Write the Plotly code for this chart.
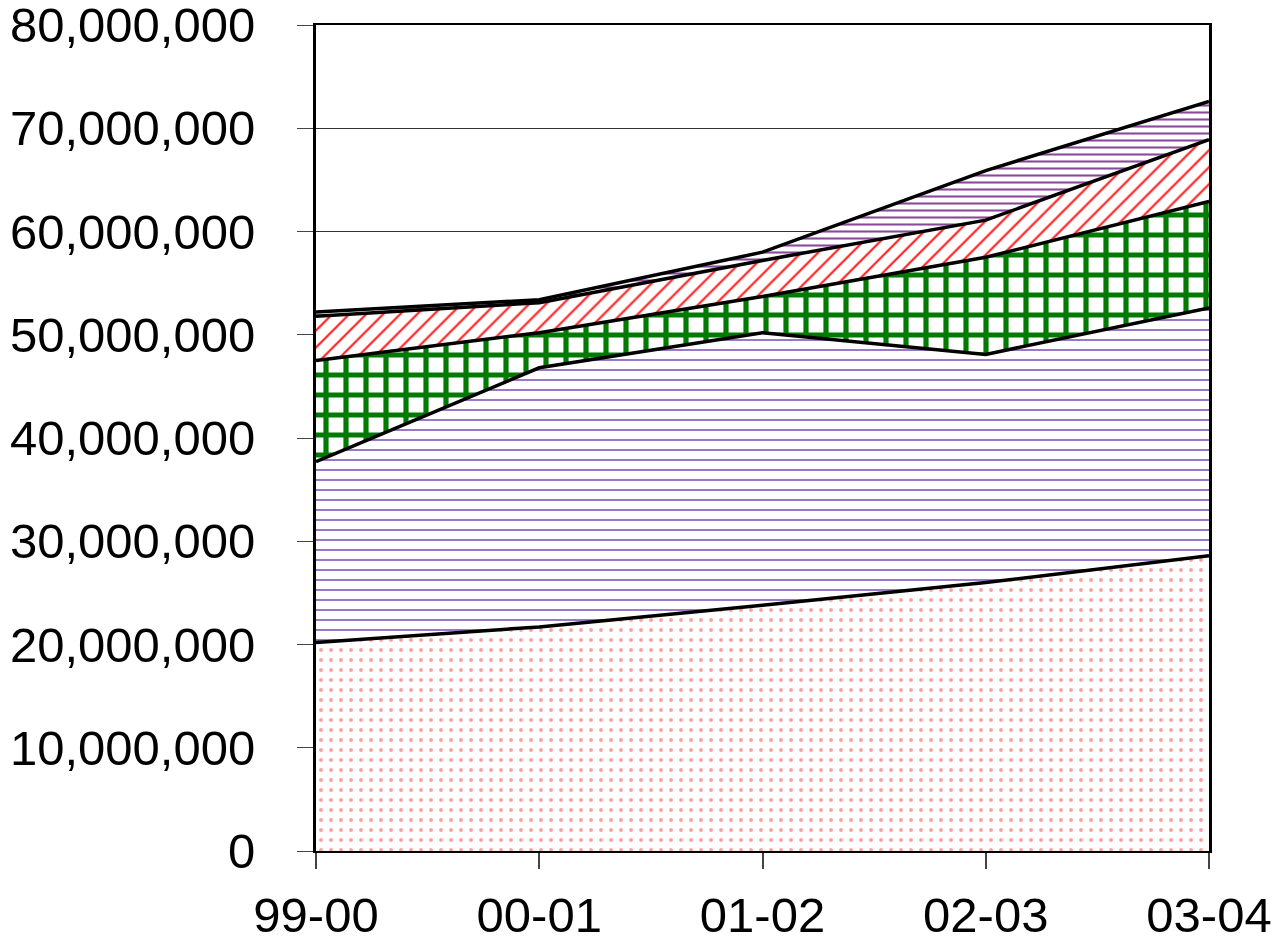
import plotly.graph_objects as go

categories = ["99-00", "00-01", "01-02", "02-03", "03-04"]
s1_dots = [20.2e6, 21.7e6, 23.8e6, 26.0e6, 28.6e6]
s2_dashes = [17.5e6, 25.1e6, 26.4e6, 22.1e6, 24.0e6]
s3_checks = [9.8e6, 3.4e6, 3.5e6, 9.4e6, 10.3e6]
s4_bricks = [4.3e6, 2.9e6, 3.5e6, 3.6e6, 6.0e6]
s5_waves = [0.4e6, 0.3e6, 0.8e6, 4.8e6, 3.7e6]
y_ticks = [0, 10e6, 20e6, 30e6, 40e6, 50e6, 60e6, 70e6, 80e6]

xs = list(range(len(categories)))

series = [
    ("s1", s1_dots, dict(shape=".", fgcolor="#ffa0a0", bgcolor="white", size=10, solidity=0.12, fgopacity=1)),
    ("s2", s2_dashes, dict(shape="-", fgcolor="#9a78c8", bgcolor="white", size=10, solidity=0.2, fgopacity=1)),
    ("s3", s3_checks, dict(shape="+", fgcolor="#007a00", bgcolor="white", size=20, solidity=0.45, fgopacity=1)),
    ("s4", s4_bricks, dict(shape="/", fgcolor="#ff2020", bgcolor="white", size=12, solidity=0.18, fgopacity=1)),
    ("s5", s5_waves, dict(shape="-", fgcolor="#8a4a9a", bgcolor="white", size=7, solidity=0.3, fgopacity=1)),
]

fig = go.Figure()
for name, vals, pat in series:
    fig.add_trace(go.Scatter(
        x=xs, y=vals, name=name, mode="lines", stackgroup="one",
        line=dict(color="black", width=3.5),
        fillcolor="white",
        fillpattern=pat,
    ))

font = dict(family="Liberation Sans, Arial, sans-serif", size=49, color="black")

fig.update_layout(
    width=1276, height=943,
    margin=dict(l=308, r=75, t=17, b=100),
    paper_bgcolor="white", plot_bgcolor="white",
    showlegend=False,
    font=font,
    xaxis=dict(
        range=[0, 4], tickvals=xs, ticktext=categories,
        ticks="outside", ticklen=16, tickcolor="#444", tickwidth=2,
        showgrid=False, zeroline=False, automargin=False,
        showline=True, linecolor="black", linewidth=2, mirror=True,
        tickfont=font, ticklabelstandoff=4, ticklabeloverflow="allow",
    ),
    yaxis=dict(
        range=[0, 80e6], tickvals=y_ticks, tickformat=",",
        ticks="outside", ticklen=16, tickcolor="#444", tickwidth=1,
        showgrid=True, gridcolor="#333", gridwidth=1,
        zeroline=False, automargin=False,
        showline=True, linecolor="black", linewidth=3, mirror=True,
        tickfont=font, ticklabelstandoff=32, ticklabeloverflow="allow",
    ),
)

fig.write_html("out.html")
